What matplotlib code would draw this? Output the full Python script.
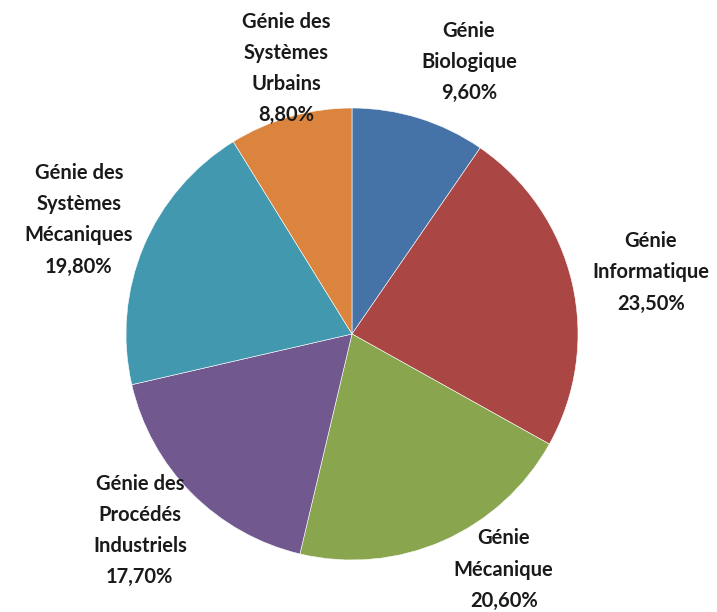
import numpy as np
import matplotlib.pyplot as plt

labels = ["Génie\nBiologique", "Génie\nInformatique", "Génie\nMécanique",
          "Génie des\nProcédés\nIndustriels", "Génie des\nSystèmes\nMécaniques",
          "Génie des\nSystèmes\nUrbains"]
values = [9.6, 23.5, 20.6, 17.7, 19.8, 8.8]
colors = ["#4572a7", "#aa4643", "#89a54e", "#71588f", "#4198af", "#db843d"]

# label placement (radius in pie units, angle tweak in degrees)
label_r = [1.31, 1.35, 1.24, 1.28, 1.31, 1.21]
label_da = [-6, -1.5, 9, -2, 0, -2]

fig = plt.figure(figsize=(7.17, 6.12), dpi=100)
ax = fig.add_axes([0, 0, 1, 1])
wedges, texts = ax.pie(values, colors=colors, startangle=90, counterclock=False,
                       radius=1, center=(0, 0),
                       wedgeprops=dict(edgecolor="white", linewidth=0.4))

for i, w in enumerate(wedges):
    mid = np.deg2rad((w.theta1 + w.theta2) / 2 + label_da[i])
    x, y = label_r[i] * np.cos(mid), label_r[i] * np.sin(mid)
    txt = labels[i] + "\n" + ("%.2f%%" % values[i]).replace(".", ",")
    ax.text(x, y, txt, ha="center", va="center", fontsize=14.5,
            fontweight="bold", family="Lato", color="#1a1a1a",
            linespacing=1.7)

ax.set_xlim(-352 / 226, 365 / 226)
ax.set_ylim(-278 / 226, 334 / 226)
ax.set_aspect("auto")
ax.axis("off")
plt.savefig("out.png", dpi=100)
